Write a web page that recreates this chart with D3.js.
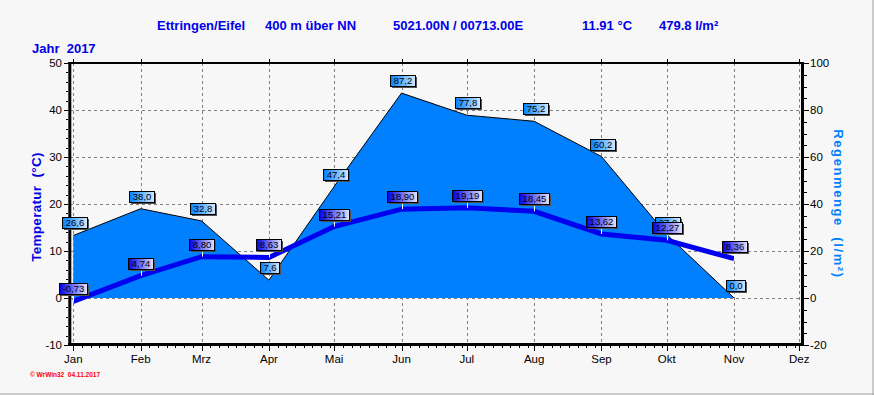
<!DOCTYPE html>
<html>
<head>
<meta charset="utf-8">
<style>
    body { margin: 0; background: #f7f7f7; }
    svg { display: block; font-family: Arial, "Liberation Sans", sans-serif; }
</style>
</head>
<body>
<svg id="chart" width="874" height="395"></svg>

<script src="https://d3js.org/d3.v7.min.js"></script>
<script>
    // Monatswerte 2017
    const months = ["Jan", "Feb", "Mrz", "Apr", "Mai", "Jun", "Jul", "Aug", "Sep", "Okt", "Nov", "Dez"];
    const rain = [26.6, 38.0, 32.8, 7.6, 47.4, 87.2, 77.8, 75.2, 60.2, 27.0, 0.0];
    const temp = [-0.73, 4.74, 8.80, 8.63, 15.21, 18.90, 19.19, 18.45, 13.62, 12.27, 8.36];
    const tempTicks = [-10, 0, 10, 20, 30, 40, 50];
    const rainTicks = [-20, 0, 20, 40, 60, 80, 100];
    const headerTexts = ["Ettringen/Eifel", "400 m über NN", "5021.00N / 00713.00E", "11.91 °C", "479.8 l/m²"];
    const headerX = [157, 265, 393, 582, 659];

    const svg = d3.select("#chart");
    const plotLeft = 73.3, plotRight = 799.3, plotTop = 63, plotBottom = 345;

    const x = d3.scaleUtc()
        .domain([new Date(Date.UTC(2017, 0, 1)), new Date(Date.UTC(2017, 11, 1))])
        .range([plotLeft, plotRight]);
    const yT = d3.scaleLinear().domain([-10, 50]).range([plotBottom, plotTop]);
    const yR = d3.scaleLinear().domain([-20, 100]).range([plotBottom, plotTop]);
    const monthDate = i => new Date(Date.UTC(2017, i, 1));

    // Rahmen des Fensters
    svg.append("line").attr("x1", 0).attr("x2", 874).attr("y1", 394).attr("y2", 394).attr("stroke", "#a0a0a0");
    svg.append("line").attr("x1", 873).attr("x2", 873).attr("y1", 0).attr("y2", 395).attr("stroke", "#a0a0a0");

    // Gitter
    const grid = svg.append("g").attr("stroke", "#808080").attr("stroke-dasharray", "3,3").attr("stroke-width", 1);
    months.forEach((m, i) => {
        const xx = Math.round(x(monthDate(i))) + 0.5;
        grid.append("line").attr("x1", xx).attr("x2", xx).attr("y1", plotTop).attr("y2", plotBottom);
    });
    tempTicks.filter(t => t > -10 && t < 50).forEach(t => {
        const yy = Math.round(yT(t)) + 0.5;
        grid.append("line").attr("x1", 70).attr("x2", 802).attr("y1", yy).attr("y2", yy);
    });

    // Niederschlag als Fläche
    const rainData = rain.map((v, i) => ({ d: monthDate(i), v: v }));
    svg.append("path")
        .datum(rainData)
        .attr("fill", "#0080ff")
        .attr("d", d3.area().x(d => x(d.d)).y0(yR(0)).y1(d => yR(d.v)));
    svg.append("path")
        .datum(rainData)
        .attr("fill", "none")
        .attr("stroke", "#000")
        .attr("stroke-width", 1)
        .attr("d", d3.line().x(d => x(d.d)).y(d => yR(d.v)));

    // Temperatur als Linie
    const tempData = temp.map((v, i) => ({ d: monthDate(i), v: v }));
    svg.append("path")
        .datum(tempData)
        .attr("fill", "none")
        .attr("stroke", "#0000ee")
        .attr("stroke-width", 5)
        .attr("d", d3.line().x(d => x(d.d)).y(d => yT(d.v)));

    // Achsen
    const axes = svg.append("g").attr("stroke", "#000");
    axes.append("line").attr("x1", 68).attr("x2", 804).attr("y1", 63).attr("y2", 63).attr("stroke-width", 2);
    axes.append("line").attr("x1", 68).attr("x2", 804).attr("y1", 344.5).attr("y2", 344.5).attr("stroke-width", 3);
    axes.append("line").attr("x1", 69.8).attr("x2", 69.8).attr("y1", 62).attr("y2", 346).attr("stroke-width", 3);
    axes.append("line").attr("x1", 802.5).attr("x2", 802.5).attr("y1", 62).attr("y2", 346).attr("stroke-width", 3);

    // Striche links (alle 2 °C) und rechts (alle 5 l/m²)
    d3.range(-10, 51, 2).forEach(t => {
        const yy = Math.round(yT(t)) + 0.5;
        const len = t % 10 === 0 ? 4 : 2;
        axes.append("line").attr("x1", 68 - len).attr("x2", 68).attr("y1", yy).attr("y2", yy);
    });
    d3.range(-20, 101, 5).forEach(t => {
        const yy = Math.round(yR(t)) + 0.5;
        const len = t % 20 === 0 ? 5 : 3;
        axes.append("line").attr("x1", 804).attr("x2", 804 + len).attr("y1", yy).attr("y2", yy);
    });
    // untere Achse: Monatsanfang und alle 4 Tage
    months.forEach((m, i) => {
        [1, 5, 9, 13, 17, 21, 25, 29].forEach(day => {
            const dt = new Date(Date.UTC(2017, i, day));
            if (dt.getUTCMonth() !== i || dt > x.domain()[1]) return;
            const xx = Math.round(x(dt)) + 0.5;
            axes.append("line").attr("x1", xx).attr("x2", xx).attr("y1", 346).attr("y2", day === 1 ? 351 : 348);
        });
        const xx = Math.round(x(monthDate(i))) + 0.5;
        axes.append("line").attr("x1", xx).attr("x2", xx).attr("y1", 59).attr("y2", 62);
    });

    // Beschriftung der Achsen
    svg.append("g").selectAll("text").data(tempTicks).join("text")
        .attr("x", 62).attr("y", d => yT(d)).attr("dy", "0.36em")
        .attr("text-anchor", "end").attr("font-size", 11.5).attr("fill", "#000")
        .text(d => d);
    svg.append("g").selectAll("text").data(rainTicks).join("text")
        .attr("x", 810).attr("y", d => yR(d)).attr("dy", "0.36em")
        .attr("font-size", 11.5).attr("fill", "#000")
        .text(d => d);
    svg.append("g").selectAll("text").data(months).join("text")
        .attr("x", (d, i) => x(monthDate(i))).attr("y", 363)
        .attr("text-anchor", "middle").attr("font-size", 11.5).attr("fill", "#000")
        .text(d => d);

    // Kopfzeile
    svg.append("g").selectAll("text").data(headerTexts).join("text")
        .attr("x", (d, i) => headerX[i]).attr("y", 30)
        .attr("font-size", 13).attr("font-weight", "bold").attr("fill", "#0000e8")
        .text(d => d);
    svg.append("text").attr("x", 32).attr("y", 53)
        .attr("font-size", 13).attr("font-weight", "bold").attr("fill", "#0000e8")
        .attr("xml:space", "preserve")
        .text("Jahr  2017");

    svg.append("text")
        .attr("transform", "translate(41,207) rotate(-90)")
        .attr("text-anchor", "middle")
        .attr("font-size", 13.5).attr("font-weight", "bold").attr("fill", "#0000e8")
        .attr("letter-spacing", 0.3)
        .attr("xml:space", "preserve")
        .text("Temperatur  (°C)");
    svg.append("text")
        .attr("transform", "translate(834,204) rotate(90)")
        .attr("text-anchor", "middle")
        .attr("font-size", 13).attr("font-weight", "bold").attr("fill", "#0080ff")
        .attr("letter-spacing", 1.6)
        .attr("xml:space", "preserve")
        .text("Regenmenge  (l/m²)");

    svg.append("text").attr("x", 30).attr("y", 377)
        .attr("font-size", 6.5).attr("font-weight", "bold").attr("fill", "#ff0000")
        .attr("xml:space", "preserve")
        .text("© WrWin32  04.11.2017");

    // Farbverläufe der Wertekästchen
    const defs = svg.append("defs");
    const gRain = defs.append("linearGradient").attr("id", "gradRain");
    gRain.append("stop").attr("offset", "0%").attr("stop-color", "#0080ff");
    gRain.append("stop").attr("offset", "100%").attr("stop-color", "#d4eaff");
    const gTemp = defs.append("linearGradient").attr("id", "gradTemp");
    gTemp.append("stop").attr("offset", "0%").attr("stop-color", "#0000e8");
    gTemp.append("stop").attr("offset", "100%").attr("stop-color", "#e4e4ff");

    function valueLabel(cx, py, txt, grad, withTick) {
        const g = svg.append("g");
        const t = g.append("text").attr("font-size", 9.5).attr("fill", "#000")
            .attr("text-anchor", "middle").text(txt);
        const w = Math.round(t.node().getComputedTextLength()) + 6;
        const h = 11;
        const bx = Math.round(cx - w / 2) + 0.5;
        const by = Math.round(py - 7 - h) + 0.5;
        if (withTick) {
            g.insert("line", "text").attr("x1", Math.round(cx) + 0.5).attr("x2", Math.round(cx) + 0.5)
                .attr("y1", by + h).attr("y2", py).attr("stroke", "#fff");
        }
        g.insert("rect", "text").attr("x", bx + 1.5).attr("y", by + 1.5).attr("width", w).attr("height", h)
            .attr("fill", "#505050");
        g.insert("rect", "text").attr("x", bx).attr("y", by).attr("width", w).attr("height", h)
            .attr("fill", `url(#${grad})`).attr("stroke", "#000");
        t.attr("x", bx + w / 2).attr("y", by + h - 2.5);
    }

    rain.forEach((v, i) => {
        const xx = x(monthDate(i));
        valueLabel(xx + 1, yR(v), v.toFixed(1).replace(".", ","), "gradRain", false);
    });
    temp.forEach((v, i) => {
        const xx = x(monthDate(i));
        valueLabel(xx, yT(v), v.toFixed(2).replace(".", ","), "gradTemp", true);
    });
</script>
</body>
</html>
